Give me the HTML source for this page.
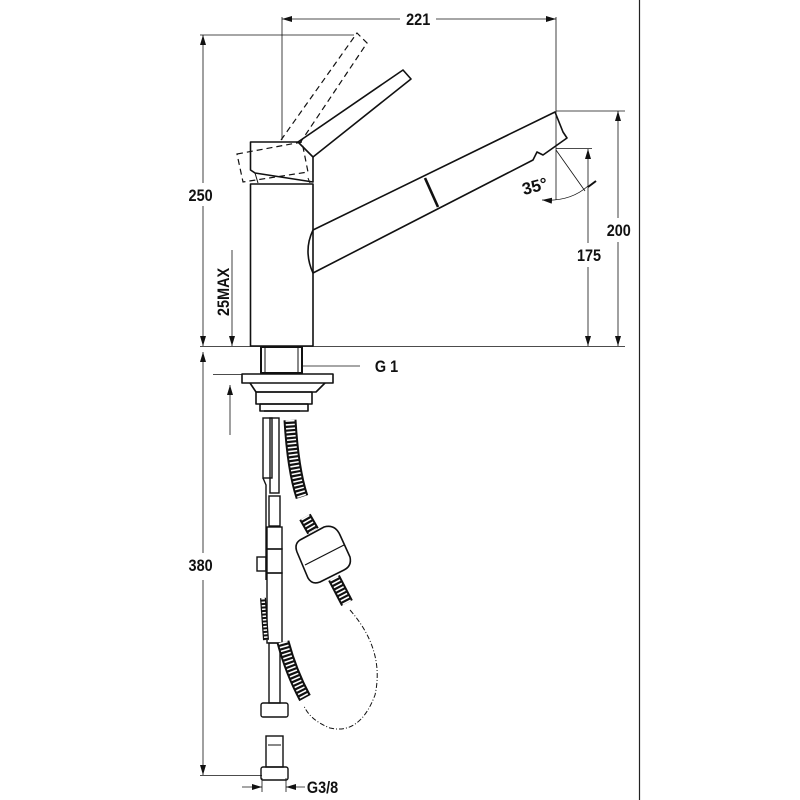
<!DOCTYPE html>
<html><head><meta charset="utf-8"><style>
html,body{margin:0;padding:0;background:#fff}
svg{display:block}
text{font-family:"Liberation Sans",sans-serif;font-weight:bold;font-size:17px;fill:#111}
</style></head><body>
<svg width="800" height="800" viewBox="0 0 800 800" xmlns="http://www.w3.org/2000/svg">
<defs>
<marker id="a" markerWidth="10" markerHeight="6" refX="10" refY="3" orient="auto-start-reverse" markerUnits="userSpaceOnUse"><path d="M0,0 L10,3 L0,6 z" fill="#111"/></marker>
</defs>
<line x1="639.5" y1="0" x2="639.5" y2="800" stroke="#222" stroke-width="1.2"/>

<g stroke="#111" stroke-width="0.8" fill="none">
<line x1="282" y1="17" x2="282" y2="140"/>
<line x1="556" y1="17" x2="556" y2="150"/>
<line x1="282" y1="19" x2="400" y2="19" marker-start="url(#a)"/>
<line x1="436" y1="19" x2="556" y2="19" marker-end="url(#a)"/>
<line x1="200" y1="35" x2="354" y2="35"/>
<line x1="203" y1="35" x2="203" y2="183" marker-start="url(#a)"/>
<line x1="203" y1="206" x2="203" y2="346" marker-end="url(#a)"/>
<line x1="200" y1="346.5" x2="625" y2="346.5"/>
<line x1="556" y1="111" x2="625" y2="111"/>
<line x1="618" y1="111" x2="618" y2="218" marker-start="url(#a)"/>
<line x1="618" y1="242" x2="618" y2="346" marker-end="url(#a)"/>
<line x1="556" y1="148.5" x2="592" y2="148.5"/>
<line x1="588" y1="149" x2="588" y2="243" marker-start="url(#a)"/>
<line x1="588" y1="267" x2="588" y2="346" marker-end="url(#a)"/>
<line x1="232" y1="250" x2="232" y2="346" marker-end="url(#a)"/>
<line x1="556" y1="150" x2="556" y2="200"/>
<line x1="556" y1="150" x2="585" y2="191"/>
<path d="M542,200 Q570,202 588,186" marker-start="url(#a)"/>
<line x1="588" y1="187" x2="596" y2="181" stroke-width="2"/>
<line x1="262" y1="366" x2="360" y2="366"/>
<line x1="203" y1="352" x2="203" y2="553" marker-start="url(#a)"/>
<line x1="203" y1="580" x2="203" y2="775" marker-end="url(#a)"/>
<line x1="213" y1="374.5" x2="242" y2="374.5"/>
<line x1="200" y1="775.5" x2="262" y2="775.5"/>
<line x1="230" y1="435" x2="230" y2="385" marker-end="url(#a)"/>
<line x1="242" y1="787" x2="262" y2="787" marker-end="url(#a)"/>
<line x1="305" y1="787" x2="286" y2="787" marker-end="url(#a)"/>
<line x1="262" y1="778" x2="262" y2="792"/>
<line x1="286" y1="778" x2="286" y2="792"/>
</g>

<g stroke="#111" stroke-width="1.6" fill="none" stroke-linejoin="round">
<rect x="250.5" y="184" width="62.5" height="162" fill="#fff"/>
<path d="M298,142 L403,70 L411,79 L313,157"/>
<path d="M250.5,142 L298,142 L313,157 L313,182 L255,173 L250.5,170 Z" fill="#fff"/>
<path d="M255,173 L258,183 M308,178 L310,183" stroke-width="1"/>
<path d="M313,230 L555,112 L563,132 L567,138 L543,155 L537,152 L533,160 L313,273"/>
<path d="M313,230 Q303,251 313,273"/>
<line x1="425" y1="178" x2="438" y2="207" stroke-width="2.6"/>
<rect x="261" y="347" width="41" height="26" fill="#fff" stroke-width="2"/>
<line x1="265" y1="347" x2="265" y2="373" stroke-width="1"/>
<line x1="298" y1="347" x2="298" y2="373" stroke-width="1"/>
<rect x="242" y="374" width="91" height="9" fill="#fff"/>
<path d="M250,383 L256,392 L316,392 L325,383"/>
<rect x="256" y="392" width="56" height="12"/>
<rect x="260" y="404" width="48" height="7"/>
<line x1="264" y1="411" x2="300" y2="411"/>
</g>

<g stroke="#111" stroke-width="1.2" fill="none" stroke-dasharray="6,4">
<path d="M237,154 L302,142 L308,172 L243,182 Z"/>
<path d="M281,140 L357,33 L367,43 L300,143"/>
</g>

<g stroke="#111" stroke-width="1.4" fill="none">
<rect x="263" y="418" width="9" height="60"/>
<rect x="270" y="418" width="9" height="75"/>
<path d="M263,478 L266,485 L266,580"/>
<rect x="269" y="496" width="11" height="30"/>
<rect x="267" y="527" width="15" height="22"/>
<rect x="257" y="557" width="9" height="14"/>
<rect x="267" y="549" width="15" height="24"/>
<rect x="267" y="573" width="15" height="70"/>
<rect x="269" y="643" width="11" height="60"/>
<rect x="261" y="703" width="27" height="14" rx="2"/>
<rect x="266" y="736" width="17" height="31"/>
<rect x="261" y="767" width="27" height="13" rx="2"/>
<line x1="268" y1="745" x2="281" y2="745" stroke-width="1"/>
</g>
<g stroke="#111" fill="none">
<path d="M290,420 Q293,470 302,497" stroke-width="13"/>
<path d="M290,420 Q293,470 302,497" stroke-width="9" stroke="#fff" stroke-dasharray="1.6,2.2"/>
<path d="M283,642 Q291,672 305,698" stroke-width="13"/>
<path d="M283,642 Q291,672 305,698" stroke-width="9" stroke="#fff" stroke-dasharray="1.6,2.2"/>
<path d="M263,598 L266,640" stroke-width="6"/>
<path d="M263,598 L266,640" stroke-width="3.5" stroke="#fff" stroke-dasharray="1.5,2"/>
<path d="M305,517 L313,531" stroke-width="13"/>
<path d="M305,517 L313,531" stroke-width="9" stroke="#fff" stroke-dasharray="1.6,2.2"/>
<path d="M334,578 L347,603" stroke-width="13"/>
<path d="M334,578 L347,603" stroke-width="9" stroke="#fff" stroke-dasharray="1.6,2.2"/>
</g>
<g stroke="#111" stroke-width="1.6" fill="#fff">
<path d="M300,540 L324,527 Q335,524 340,535 L350,557 Q352,566 344,570 L320,582 Q312,585 308,578 L297,552 Q294,544 300,540 Z"/>
<line x1="305" y1="565" x2="344" y2="545" stroke-width="1.2"/>
</g>
<path d="M350,610 Q385,650 375,695 Q360,735 330,728 Q310,720 304,706" stroke="#111" stroke-width="1" fill="none" stroke-dasharray="5,2,1,2"/>

<g transform="scale(0.85,1)">
<text x="492" y="25" text-anchor="middle">221</text>
<text x="236" y="201" text-anchor="middle">250</text>
<text x="728" y="236" text-anchor="middle">200</text>
<text x="693" y="261" text-anchor="middle">175</text>
<text x="441" y="372">G 1</text>
<text x="236" y="571" text-anchor="middle">380</text>
<text x="361" y="793">G3/8</text>
</g>
<text x="535" y="192" text-anchor="middle" font-size="16" transform="rotate(-15 535 187)">35°</text>
<text transform="translate(229,316) rotate(-90) scale(0.85,1)" font-size="15">25MAX</text>
</svg>
</body></html>
